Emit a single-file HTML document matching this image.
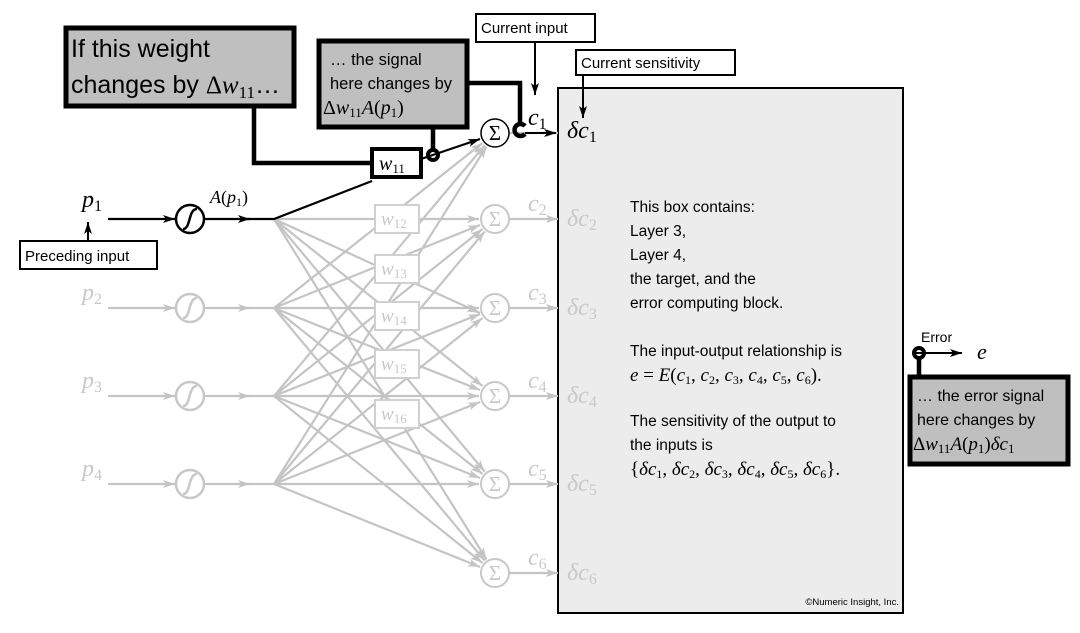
<!DOCTYPE html>
<html><head><meta charset="utf-8"><style>
body{margin:0;background:#fff}
svg{display:block}
.s{font-family:"Liberation Sans",sans-serif}
.m{font-family:"Liberation Serif",serif;font-style:italic}
.u{font-family:"Liberation Serif",serif;font-style:normal}
</style></head><body>
<svg width="1080" height="633" viewBox="0 0 1080 633" xmlns="http://www.w3.org/2000/svg">
<defs>
<marker id="ag" markerUnits="userSpaceOnUse" markerWidth="12" markerHeight="8" refX="12" refY="4" orient="auto"><path d="M0,0 L12,4 L0,8 L3,4 z" fill="#c4c4c4"/></marker>
<marker id="ab" markerUnits="userSpaceOnUse" markerWidth="12" markerHeight="8" refX="12" refY="4" orient="auto"><path d="M0,0 L12,4 L0,8 L3,4 z" fill="#000"/></marker>
</defs>

<rect x="558" y="88" width="345" height="525" fill="#ececec" stroke="#000" stroke-width="2"/>

<g stroke="#c4c4c4" stroke-width="2.2" fill="none" marker-end="url(#ag)">
<line x1="274" y1="219" x2="479" y2="219"/>
<line x1="274" y1="219" x2="480" y2="313"/>
<line x1="274" y1="219" x2="482.5" y2="386"/>
<line x1="274" y1="219" x2="484.8" y2="471.7"/>
<line x1="274" y1="219" x2="486.5" y2="559.4"/>
<line x1="274" y1="308" x2="482.5" y2="143"/>
<line x1="274" y1="308" x2="480" y2="225"/>
<line x1="274" y1="308" x2="479" y2="308"/>
<line x1="274" y1="308" x2="480" y2="390"/>
<line x1="274" y1="308" x2="482.5" y2="474"/>
<line x1="274" y1="308" x2="484.8" y2="560.7"/>
<line x1="274" y1="396" x2="484.8" y2="145.3"/>
<line x1="274" y1="396" x2="482.5" y2="229"/>
<line x1="274" y1="396" x2="480" y2="314"/>
<line x1="274" y1="396" x2="479" y2="396"/>
<line x1="274" y1="396" x2="480" y2="478"/>
<line x1="274" y1="396" x2="482.5" y2="563"/>
<line x1="274" y1="484" x2="486.5" y2="146.6"/>
<line x1="274" y1="484" x2="484.8" y2="231.3"/>
<line x1="274" y1="484" x2="482.5" y2="318"/>
<line x1="274" y1="484" x2="480" y2="402"/>
<line x1="274" y1="484" x2="479" y2="484"/>
<line x1="274" y1="484" x2="480" y2="567"/>
<line x1="108" y1="308" x2="175" y2="308"/>
<line x1="205" y1="308" x2="250" y2="308"/>
<line x1="108" y1="396" x2="175" y2="396"/>
<line x1="205" y1="396" x2="250" y2="396"/>
<line x1="108" y1="484" x2="175" y2="484"/>
<line x1="205" y1="484" x2="250" y2="484"/>
<line x1="509" y1="133" x2="558" y2="133"/>
<line x1="509" y1="219" x2="558" y2="219"/>
<line x1="509" y1="308" x2="558" y2="308"/>
<line x1="509" y1="396" x2="558" y2="396"/>
<line x1="509" y1="484" x2="558" y2="484"/>
<line x1="509" y1="573" x2="558" y2="573"/>
</g>
<g stroke="#c4c4c4" stroke-width="2.2">
<line x1="245" y1="308" x2="274" y2="308"/>
<line x1="245" y1="396" x2="274" y2="396"/>
<line x1="245" y1="484" x2="274" y2="484"/>
</g>

<g fill="#fff" stroke="#d0d0d0" stroke-width="2">
<rect x="375" y="205" width="44" height="28"/>
<rect x="375" y="255" width="44" height="28"/>
<rect x="375" y="302" width="44" height="28"/>
<rect x="375" y="350" width="44" height="28"/>
<rect x="375" y="400" width="44" height="28"/>
</g>
<g class="m" fill="#c8c8c8" font-size="19">
<text x="381" y="225">w<tspan font-size="13" dy="3" class="u">12</tspan></text>
<text x="381" y="275">w<tspan font-size="13" dy="3" class="u">13</tspan></text>
<text x="381" y="322">w<tspan font-size="13" dy="3" class="u">14</tspan></text>
<text x="381" y="370">w<tspan font-size="13" dy="3" class="u">15</tspan></text>
<text x="381" y="420">w<tspan font-size="13" dy="3" class="u">16</tspan></text>
</g>

<g fill="#fff" stroke="#c8c8c8" stroke-width="2">
<circle cx="495" cy="219" r="14"/><circle cx="495" cy="308" r="14"/><circle cx="495" cy="396" r="14"/>
<circle cx="495" cy="484" r="14"/><circle cx="495" cy="573" r="14"/>
</g>
<circle cx="495" cy="133" r="14" fill="#fff" stroke="#000" stroke-width="1.5"/>
<g class="u" font-size="21" text-anchor="middle" fill="#c8c8c8">
<text x="495" y="226">Σ</text><text x="495" y="315">Σ</text><text x="495" y="403">Σ</text><text x="495" y="491">Σ</text><text x="495" y="580">Σ</text>
</g>
<text x="495" y="140" class="u" font-size="21" text-anchor="middle">Σ</text>

<g fill="#fff" stroke="#c8c8c8" stroke-width="2.5">
<circle cx="190" cy="308" r="14"/><circle cx="190" cy="396" r="14"/><circle cx="190" cy="484" r="14"/>
</g>
<g fill="none" stroke="#c8c8c8" stroke-width="2.5">
<path d="M183,318 C191,318 188,298 197,298"/>
<path d="M183,406 C191,406 188,386 197,386"/>
<path d="M183,494 C191,494 188,474 197,474"/>
</g>
<circle cx="190" cy="219" r="14" fill="#fff" stroke="#000" stroke-width="2.5"/>
<path d="M183,229 C191,229 188,209 197,209" fill="none" stroke="#000" stroke-width="2.5"/>

<g stroke="#000" stroke-width="2.2" fill="none">
<line x1="108" y1="219" x2="175" y2="219" marker-end="url(#ab)"/>
<line x1="205" y1="219" x2="250" y2="219" marker-end="url(#ab)"/>
<polyline points="245,219 274,219 372,181"/>
<line x1="421" y1="159" x2="480" y2="139" marker-end="url(#ab)"/>
</g>

<g stroke="#000" stroke-width="4.5" fill="none">
<polyline points="254,105 254,163 372,163"/>
<line x1="433" y1="127" x2="433" y2="150"/>
<polyline points="467,83 520,83 520,124"/>
<line x1="919" y1="356" x2="919" y2="378"/>
</g>

<rect x="372" y="149" width="49" height="28" fill="#fff" stroke="#000" stroke-width="4"/>
<text x="379" y="170" class="m" font-size="20">w<tspan font-size="13" dy="3" class="u">11</tspan></text>

<circle cx="433" cy="155" r="5" fill="none" stroke="#000" stroke-width="4"/>
<path d="M525,126 A6,6 0 1 0 525,134" fill="none" stroke="#000" stroke-width="4.5"/>
<line x1="525" y1="133" x2="556" y2="133" stroke="#000" stroke-width="2" marker-end="url(#ab)"/>
<circle cx="919" cy="353" r="5" fill="none" stroke="#000" stroke-width="4"/>
<line x1="914" y1="353" x2="962" y2="353" stroke="#000" stroke-width="2" marker-end="url(#ab)"/>

<rect x="66" y="28" width="228" height="78" fill="#bfbfbf" stroke="#000" stroke-width="5"/>
<text class="s" font-size="25" x="71" y="57">If this weight</text>
<text class="s" font-size="25" x="71" y="93">changes by <tspan class="u">Δ</tspan><tspan class="m">w</tspan><tspan class="u" font-size="17" dy="5">11</tspan><tspan dy="-5">…</tspan></text>

<rect x="319" y="41" width="148" height="86" fill="#bfbfbf" stroke="#000" stroke-width="5"/>
<text class="s" font-size="16.5" x="330" y="65">… the signal</text>
<text class="s" font-size="16.5" x="330" y="89">here changes by</text>
<text x="323" y="114" font-size="20"><tspan class="u">Δ</tspan><tspan class="m">w</tspan><tspan class="u" font-size="13" dy="3">11</tspan><tspan class="m" dy="-3">A</tspan><tspan class="u">(</tspan><tspan class="m">p</tspan><tspan class="u" font-size="13" dy="3">1</tspan><tspan class="u" dy="-3">)</tspan></text>

<rect x="910" y="377" width="158" height="87" fill="#bfbfbf" stroke="#000" stroke-width="5"/>
<text class="s" font-size="16" x="917" y="401">… the error signal</text>
<text class="s" font-size="16" x="917" y="425">here changes by</text>
<text x="913" y="450" font-size="19"><tspan class="u">Δ</tspan><tspan class="m">w</tspan><tspan class="u" font-size="13" dy="3">11</tspan><tspan class="m" dy="-3">A</tspan><tspan class="u">(</tspan><tspan class="m">p</tspan><tspan class="u" font-size="13" dy="3">1</tspan><tspan class="u" dy="-3">)</tspan><tspan class="m">δc</tspan><tspan class="u" font-size="13" dy="3">1</tspan></text>

<rect x="476" y="14" width="119" height="28" fill="#fff" stroke="#000" stroke-width="2"/>
<text class="s" font-size="15" x="481" y="33">Current input</text>
<line x1="535" y1="42" x2="535" y2="95" stroke="#000" stroke-width="2" marker-end="url(#ab)"/>
<rect x="576" y="50" width="159" height="25" fill="#fff" stroke="#000" stroke-width="2"/>
<text class="s" font-size="15" x="581" y="68">Current sensitivity</text>
<line x1="583" y1="75" x2="583" y2="118" stroke="#000" stroke-width="2" marker-end="url(#ab)"/>
<rect x="20" y="241" width="137" height="28" fill="#fff" stroke="#000" stroke-width="2"/>
<text class="s" font-size="15" x="25" y="261">Preceding input</text>
<line x1="88" y1="241" x2="88" y2="222" stroke="#000" stroke-width="2" marker-end="url(#ab)"/>

<text x="82" y="207" class="m" font-size="24">p<tspan class="u" font-size="16" dy="4">1</tspan></text>
<g class="m" font-size="24" fill="#c8c8c8">
<text x="82" y="300">p<tspan class="u" font-size="16" dy="4">2</tspan></text>
<text x="82" y="388">p<tspan class="u" font-size="16" dy="4">3</tspan></text>
<text x="82" y="476">p<tspan class="u" font-size="16" dy="4">4</tspan></text>
</g>
<text x="210" y="203" font-size="18"><tspan class="m">A</tspan><tspan class="u">(</tspan><tspan class="m">p</tspan><tspan class="u" font-size="12" dy="3">1</tspan><tspan class="u" dy="-3">)</tspan></text>
<text x="528" y="125" class="m" font-size="24">c<tspan class="u" font-size="16" dy="4">1</tspan></text>
<g class="m" font-size="24" fill="#c8c8c8">
<text x="528" y="211">c<tspan class="u" font-size="16" dy="4">2</tspan></text>
<text x="528" y="300">c<tspan class="u" font-size="16" dy="4">3</tspan></text>
<text x="528" y="388">c<tspan class="u" font-size="16" dy="4">4</tspan></text>
<text x="528" y="476">c<tspan class="u" font-size="16" dy="4">5</tspan></text>
<text x="528" y="565">c<tspan class="u" font-size="16" dy="4">6</tspan></text>
</g>
<text x="567" y="138" class="m" font-size="24">δc<tspan class="u" font-size="16" dy="4">1</tspan></text>
<g class="m" font-size="24" fill="#c8c8c8">
<text x="567" y="226">δc<tspan class="u" font-size="16" dy="4">2</tspan></text>
<text x="567" y="315">δc<tspan class="u" font-size="16" dy="4">3</tspan></text>
<text x="567" y="403">δc<tspan class="u" font-size="16" dy="4">4</tspan></text>
<text x="567" y="491">δc<tspan class="u" font-size="16" dy="4">5</tspan></text>
<text x="567" y="580">δc<tspan class="u" font-size="16" dy="4">6</tspan></text>
</g>
<text class="s" font-size="14" x="921" y="342">Error</text>
<text x="977" y="359" class="m" font-size="22">e</text>

<g class="s" font-size="15.5">
<text x="630" y="212">This box contains:</text>
<text x="630" y="236">Layer 3,</text>
<text x="630" y="260">Layer 4,</text>
<text x="630" y="284">the target, and the</text>
<text x="630" y="308">error computing block.</text>
<text x="630" y="356">The input-output relationship is</text>
<text x="630" y="426">The sensitivity of the output to</text>
<text x="630" y="450">the inputs is</text>
</g>
<text x="630" y="381" font-size="19"><tspan class="m">e</tspan><tspan class="u"> = </tspan><tspan class="m">E</tspan><tspan class="u">(</tspan><tspan class="m">c</tspan><tspan class="u" font-size="12" dy="3">1</tspan><tspan class="u" dy="-3">, </tspan><tspan class="m">c</tspan><tspan class="u" font-size="12" dy="3">2</tspan><tspan class="u" dy="-3">, </tspan><tspan class="m">c</tspan><tspan class="u" font-size="12" dy="3">3</tspan><tspan class="u" dy="-3">, </tspan><tspan class="m">c</tspan><tspan class="u" font-size="12" dy="3">4</tspan><tspan class="u" dy="-3">, </tspan><tspan class="m">c</tspan><tspan class="u" font-size="12" dy="3">5</tspan><tspan class="u" dy="-3">, </tspan><tspan class="m">c</tspan><tspan class="u" font-size="12" dy="3">6</tspan><tspan class="u" dy="-3">).</tspan></text>
<text x="630" y="475" font-size="19"><tspan class="u">{</tspan><tspan class="m">δc</tspan><tspan class="u" font-size="12" dy="3">1</tspan><tspan class="u" dy="-3">, </tspan><tspan class="m">δc</tspan><tspan class="u" font-size="12" dy="3">2</tspan><tspan class="u" dy="-3">, </tspan><tspan class="m">δc</tspan><tspan class="u" font-size="12" dy="3">3</tspan><tspan class="u" dy="-3">, </tspan><tspan class="m">δc</tspan><tspan class="u" font-size="12" dy="3">4</tspan><tspan class="u" dy="-3">, </tspan><tspan class="m">δc</tspan><tspan class="u" font-size="12" dy="3">5</tspan><tspan class="u" dy="-3">, </tspan><tspan class="m">δc</tspan><tspan class="u" font-size="12" dy="3">6</tspan><tspan class="u" dy="-3">}.</tspan></text>
<text class="s" font-size="9.5" x="899" y="605" text-anchor="end">©Numeric Insight, Inc.</text>
</svg>
</body></html>
